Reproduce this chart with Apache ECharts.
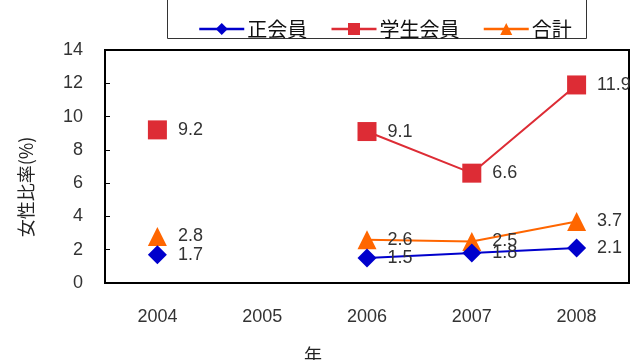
<!DOCTYPE html>
<html>
<head>
<meta charset="utf-8">
<script src="https://cdn.jsdelivr.net/npm/echarts@6/dist/echarts.min.js"></script>
<style>
  html, body { margin: 0; padding: 0; background: #fff; }
  #chart { width: 631px; height: 360px; }
</style>
</head>
<body>
<div id="chart"></div>
<script>
// Female membership ratio (%) by year
const years = ['2004', '2005', '2006', '2007', '2008'];
const regularMembers = [1.7, null, 1.5, 1.8, 2.1];   // 正会員
const studentMembers = [9.2, null, 9.1, 6.6, 11.9];  // 学生会員
const totalMembers = [2.8, null, 2.6, 2.5, 3.7];     // 合計
const yTicks = { min: 0, max: 14, step: 2 };

const numFont = '"Liberation Sans", Arial, sans-serif';
const jpFont = '"Noto Sans CJK JP", sans-serif';

const chart = echarts.init(document.getElementById('chart'), null, { renderer: 'canvas' });

function valueLabel() {
  return {
    show: true,
    position: 'right',
    distance: 11,
    color: '#333',
    fontSize: 18,
    fontFamily: numFont
  };
}

chart.setOption({
  animation: false,
  backgroundColor: '#fff',
  grid: {
    left: 105, right: 2, top: 50, bottom: 77,
    show: true, borderColor: '#000', borderWidth: 2, backgroundColor: 'transparent'
  },
  legend: {
    left: 193, top: 14,
    itemWidth: 45, itemHeight: 15, itemGap: 23,
    lineStyle: { width: 2.5 },
    textStyle: { fontSize: 20, color: '#111', fontFamily: jpFont, padding: [0, 0, 0, -2] },
    data: ['正会員', '学生会員', '合計']
  },
  graphic: [
    {
      type: 'rect',
      shape: { x: 167.5, y: -10, width: 419, height: 48.5 },
      style: { fill: 'none', stroke: '#333', lineWidth: 1 },
      silent: true
    },
    {
      type: 'text',
      x: 26, y: 187, rotation: Math.PI / 2,
      style: {
        text: '女性比率(%)', fill: '#222', fontSize: 18, fontFamily: jpFont,
        align: 'center', verticalAlign: 'middle'
      }
    },
    {
      type: 'text',
      x: 313, y: 355,
      style: {
        text: '年', fill: '#222', fontSize: 18, fontFamily: jpFont,
        align: 'center', verticalAlign: 'middle'
      }
    }
  ],
  xAxis: {
    type: 'category',
    data: years,
    boundaryGap: true,
    axisLine: { lineStyle: { color: '#000', width: 2 } },
    axisTick: { inside: true, length: 5, lineStyle: { color: '#000', width: 1 } },
    axisLabel: { margin: 25, fontSize: 18, color: '#333', fontFamily: numFont },
    splitLine: { show: false }
  },
  yAxis: {
    type: 'value',
    min: yTicks.min, max: yTicks.max, interval: yTicks.step,
    axisLine: { show: true, lineStyle: { color: '#000', width: 2 } },
    axisTick: { show: true, inside: true, length: 5, lineStyle: { color: '#000', width: 1 } },
    axisLabel: { margin: 22, fontSize: 18, color: '#333', fontFamily: numFont },
    splitLine: { show: false }
  },
  series: [
    {
      name: '正会員', type: 'line', data: regularMembers,
      connectNulls: false,
      symbol: 'diamond', symbolSize: 19,
      color: '#0000CC',
      itemStyle: { color: '#0000CC' },
      lineStyle: { color: '#0000CC', width: 2 },
      label: valueLabel(),
      z: 4
    },
    {
      name: '学生会員', type: 'line', data: studentMembers,
      connectNulls: false,
      symbol: 'rect', symbolSize: 19,
      color: '#DD2C35',
      itemStyle: { color: '#DD2C35' },
      lineStyle: { color: '#DD2C35', width: 2 },
      label: valueLabel(),
      z: 3
    },
    {
      name: '合計', type: 'line', data: totalMembers,
      connectNulls: false,
      symbol: 'triangle', symbolSize: 19,
      color: '#FF6600',
      itemStyle: { color: '#FF6600' },
      lineStyle: { color: '#FF6600', width: 2 },
      label: valueLabel(),
      z: 2
    }
  ]
});
</script>
</body>
</html>
